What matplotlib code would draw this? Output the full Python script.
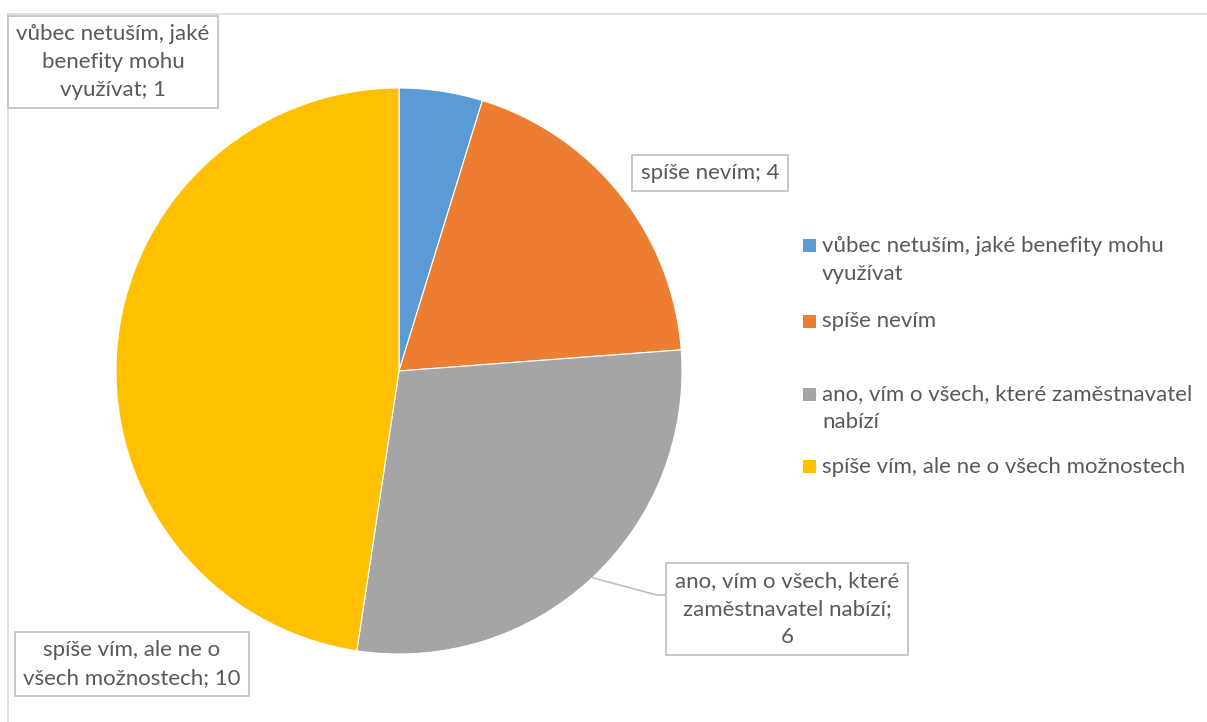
import matplotlib
matplotlib.use("Agg")
import matplotlib.pyplot as plt
from matplotlib.lines import Line2D
from matplotlib.patches import Rectangle
from matplotlib.transforms import Affine2D

plt.rcParams['font.family'] = ['Lato', 'DejaVu Sans']

# --- data -------------------------------------------------------------
categories = [
    "vůbec netuším, jaké benefity mohu využívat",
    "spíše nevím",
    "ano, vím o všech, které zaměstnavatel nabízí",
    "spíše vím, ale ne o všech možnostech",
]
values = [1, 4, 6, 10]
colors = ["#5B9BD5", "#ED7D31", "#A5A5A5", "#FFC000"]

# wrapped category names for the data-label boxes and the legend
label_names = [
    "vůbec netuším, jaké\nbenefity mohu\nvyužívat",
    "spíše nevím",
    "ano, vím o všech, které\nzaměstnavatel nabízí;\n",
    "spíše vím, ale ne o\nvšech možnostech",
]
legend_names = [
    "vůbec netuším, jaké benefity mohu\nvyužívat",
    "spíše nevím",
    "ano, vím o všech, které zaměstnavatel\nnabízí",
    "spíše vím, ale ne o všech možnostech",
]

W, H = 1207, 722
TEXT = "#595959"
BORDER = "#BFBFBF"
FS = 16
LS = 1.5

fig = plt.figure(figsize=(W / 100, H / 100), dpi=100)
fig.patch.set_facecolor("white")

# pixel transform with origin at the top-left corner
px = Affine2D().scale(1.0 / W, -1.0 / H).translate(0, 1) + fig.transFigure

# chart area outline (top and left edges visible)
fig.add_artist(Line2D([8, W + 5], [14, 14], transform=px, color="#D9D9D9", lw=1.2))
fig.add_artist(Line2D([8, 8], [14, H + 5], transform=px, color="#D9D9D9", lw=1.2))

# pie axes
cx, cy, r = 399, 371, 283
ax = fig.add_axes([(cx - r) / W, (H - cy - r) / H, 2 * r / W, 2 * r / H])
wedges, _ = ax.pie(values, colors=colors, startangle=90, counterclock=False,
                   radius=1.0, wedgeprops=dict(edgecolor="white", linewidth=0.8))
ax.set_xlim(-1, 1)
ax.set_ylim(-1, 1)
ax.set_aspect("equal")
ax.axis("off")

# data labels in boxes
box = dict(boxstyle="square,pad=0.38", facecolor="white", edgecolor=BORDER, linewidth=1.2)
label_pos = [(113, 62), (710, 173), (787, 609), (132, 664)]
for i, (name, val) in enumerate(zip(label_names, values)):
    if name.endswith(";\n"):
        s = f"{name}{val}"
    else:
        s = f"{name}; {val}"
    x, y = label_pos[i]
    fig.text(x / W, 1 - y / H, s, ha="center", va="center", fontsize=FS,
             color=TEXT, linespacing=LS, bbox=box, zorder=5)

# leader line for the grey slice label
fig.add_artist(Line2D([593, 657, 667], [578, 595, 595], transform=px,
                      color=BORDER, lw=1.2, zorder=4))

# legend
leg_x = 803
leg_rows = [245.5, 321, 394, 466.5]
for name, col, y in zip(legend_names, colors, leg_rows):
    fig.add_artist(Rectangle((leg_x, y - 6.5), 13, 13, transform=px,
                             facecolor=col, edgecolor="none"))
    fig.text((leg_x + 19) / W, 1 - (y - 9.5) / H, name, ha="left", va="top",
             fontsize=FS, color=TEXT, linespacing=LS)

fig.savefig("out.png", dpi=100)
